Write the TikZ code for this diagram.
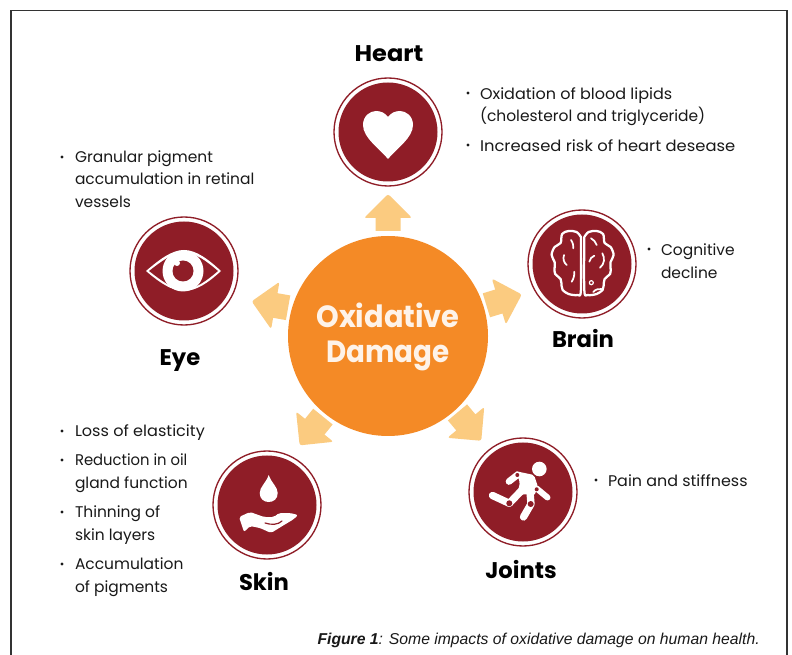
\documentclass[tikz,border=0pt]{standalone}
\usepackage{fontspec}
\setmainfont{Poppins}
\newfontfamily\capfont{Liberation Sans}
\definecolor{dred}{HTML}{8F1D27}
\definecolor{orng}{HTML}{F48A26}
\definecolor{lorng}{HTML}{FBCB80}
\tikzset{
  txt/.style={anchor=base west,inner sep=0pt,outer sep=0pt,font=\fontsize{11.6}{14}\selectfont,text=black!90},
  head/.style={anchor=base,inner sep=0pt,font=\fontsize{17}{19}\selectfont\bfseries,text=black},
  bigt/.style={anchor=base,inner sep=0pt,font=\fontsize{23}{26}\selectfont\bfseries,text=white!90!orng},
  disc/.style={circle,fill=dred,minimum size=99pt*0.75,inner sep=0pt},
  ring/.style={circle,draw=dred,line width=1pt,minimum size=108pt*0.75,inner sep=0pt},
  blockarrow/.style={fill=lorng,draw=none},
  ico/.style={draw=white,line width=1.7pt,line cap=round,line join=round},
  icothin/.style={draw=white,line width=1.3pt,line cap=round,line join=round},
}
% #1 rotation, #2 centre of rotation
\newcommand{\blockarr}[2]{\path[blockarrow,shift={(#2)},rotate=#1]
  (-12.5,-105)--(-12.5,-118)
  [rounded corners=1.8pt]--(-24,-118)--(0,-142)--(24,-118)
  [sharp corners]--(12.5,-118)--(12.5,-105)--cycle;}
\newcommand{\itm}[3]{\node[txt] (#1) at (#2) {#3};}
\newcommand{\itmx}[4]{\node[txt] (#1) at (#2) {\scalebox{#4}[1]{#3}};}
\newcommand{\bul}[2]{\fill[black!90] (#1,#2) circle (1.6);}
\begin{document}
\begin{tikzpicture}[x=0.75pt,y=-0.75pt]
\useasboundingbox (0,0) rectangle (792,655);
\fill[white] (0,0) rectangle (792,655);
\draw[black!80,line width=0.8pt] (11,655)--(11,10.5)--(787,10.5)--(787,655);
% arrows
\blockarr{0}{388,336}
\blockarr{-73}{386,336}
\blockarr{80}{391.5,326}
\blockarr{141}{389,335}
\blockarr{-140}{390,332}
% centre
\node[circle,fill=orng,minimum size=150pt,inner sep=0pt] (core) at (388,336) {};
\node[bigt] (c1) at (388,328) {\scalebox{0.94}[1]{Oxidative}};
\node[bigt] (c2) at (388,363) {\scalebox{0.905}[1]{Damage}};
% discs
\foreach \n/\x/\y in {heart/388/132,brain/582/264,eye/184/271,skin/267/505,joints/523/492}{
  \node[ring] (\n r) at (\x,\y) {};
  \node[disc] (\n) at (\x,\y) {};
}
% heart icon
\begin{scope}[shift={(388,132)}]
\fill[white] (0,27) .. controls (-8,17) and (-25,6) .. (-25,-7) .. controls (-25,-16) and (-18,-21) .. (-12,-21)
 .. controls (-7,-21) and (-3,-19) .. (0,-15) .. controls (3,-19) and (7,-21) .. (12,-21)
 .. controls (18,-21) and (25,-16) .. (25,-7) .. controls (25,6) and (8,17) .. (0,27) -- cycle;
\end{scope}
% brain icon
\begin{scope}[shift={(582.6,264)}]
\foreach \s in {1,-1}{
\begin{scope}[xscale=\s]
\draw[ico] plot[smooth,tension=0.55] coordinates {(1.7,-27)(6,-32)(14,-33)(20.5,-30)(22,-21)(28,-17)(31,-9)(28,-2)(28,4)(27.5,10)(22,15)(21,22)(20,26)(14,30)(5,31)(1.7,26)(1.7,-27)};
\end{scope}}
\draw[icothin] (-11.6,-24) .. controls (-9.5,-21) and (-9,-18) .. (-9.3,-15.7);
\draw[icothin] (-18.6,-9) .. controls (-20,-5) and (-18.5,-1) .. (-15.9,1);
\draw[icothin] (-8.3,7.7) .. controls (-8,11) and (-9,15) .. (-10.9,17.7);
\draw[icothin] (8.4,-25.7) .. controls (11,-24.5) and (13,-22) .. (14.1,-19);
\draw[icothin] (11.7,-8.3) .. controls (9,-7.5) and (7.5,-5) .. (6.7,-2.3);
\draw[icothin] (19.7,-10.7) .. controls (22.5,-6) and (22,0) .. (17.4,3.7);
\draw[icothin,line width=0.9pt] (8.7,18.7) circle (2);
\draw[icothin] (10.7,28) .. controls (13,25) and (16,25) .. (19,25);
\end{scope}
% eye icon
\begin{scope}[shift={(184,271)}]
\fill[white] (-38,0) .. controls (-24,-12) and (-12,-21) .. (0,-21) .. controls (12,-21) and (24,-12) .. (37,0)
  .. controls (24,12) and (12,20) .. (0,20) .. controls (-12,20) and (-24,12) .. (-38,0) -- cycle;
\fill[dred] (-35,0) .. controls (-22,-10) and (-12,-18) .. (0,-18) .. controls (12,-18) and (22,-10) .. (34,0)
  .. controls (22,10) and (12,18) .. (0,18) .. controls (-12,18) and (-22,10) .. (-35,0) -- cycle;
\fill[white] (-1,0) circle (20.5);
\fill[dred] (-1,0) circle (10.5);
\fill[white] (-7,-8) circle (3);
\end{scope}
% skin icon
\begin{scope}[shift={(267,505)}]
\fill[white] (1.7,-30) .. controls (-1,-22) and (-7.3,-18) .. (-7.3,-12) .. controls (-7.3,-6) and (-3,-3) .. (1.7,-3)
  .. controls (6.5,-3) and (10.7,-6) .. (10.7,-12) .. controls (10.7,-18) and (4.5,-22) .. (1.7,-30) -- cycle;
\fill[white,rounded corners=1.5pt] (-28,12)--(-17,7)--(-3,12)--(7,12)--(12,8)--(23,8)--(31,10)--(27,14)--(17,20)--(4,28)--(-7,23)--(-17,21)--(-23,27)--cycle;
\draw[dred,line width=0.9pt,line cap=round] (-2,18) .. controls (4,20) and (11,20) .. (15,16);
\end{scope}
% joints icon
\begin{scope}[shift={(523,492)}]
\fill[white] (16.3,-23) circle (7.3);
\draw[white,line width=5pt,line cap=round,line join=round] (-14,-10.5)--(-5.7,-17);
\draw[white,line width=4.5pt,line cap=round,line join=round] (13.7,-3.5)--(24.5,5.5);
\fill[white,rounded corners=1.5pt] (-8,-21)--(11,-17)--(15,-5)--(11,4)--(2,2)--(-6,4)--(-3,-10)--cycle;
\draw[white,line width=5.5pt,line cap=round,line join=round] (-1,-2)--(-13.7,11.3)--(-30.5,3.5);
\draw[white,line width=5.5pt,line cap=round,line join=round] (7,0)--(8,12)--(0.5,25);
\fill[dred] (-5.7,-17) circle (2);
\fill[dred] (13.7,-2.7) circle (2);
\fill[dred] (-13.7,11.3) circle (3);
\fill[dred] (7.7,12) circle (3);
\end{scope}
% headings
\node[head] (hHeart) at (389,62) {\scalebox{1.06}[1]{Heart}};
\node[head] (hBrain) at (583,348) {Brain};
\node[head] (hEye) at (180,366) {Eye};
\node[head] (hSkin) at (264,590) {Skin};
\node[head] (hJoints) at (521,578) {Joints};
% heart list
\bul{468}{93}\bul{468}{145}
\itmx{a1}{480,99.5}{Oxidation of blood lipids}{1.035}
\itm{a2}{480,121.5}{(cholesterol and triglyceride)}
\itmx{a3}{480,151.5}{Increased risk of heart desease}{1.058}
% brain list
\bul{649}{249}
\itm{b1}{661,255.5}{Cognitive}
\itm{b2}{661,278.5}{decline}
% eye list
\bul{62}{157}
\itm{e1}{75,162.5}{Granular pigment}
\itm{e2}{75,184.5}{accumulation in retinal}
\itm{e3}{75,207.5}{vessels}
% joints list
\bul{596}{480}
\itmx{j1}{608,486.5}{Pain and stiffness}{1.03}
% skin list
\bul{62}{431}\bul{62}{460}\bul{62}{512}\bul{62}{564}
\itmx{s1}{75,436.5}{Loss of elasticity}{1.04}
\itmx{s2}{75,465.5}{Reduction in oil}{0.957}
\itm{s3}{75,488.5}{gland function}
\itm{s4}{75,517.5}{Thinning of}
\itm{s5}{75,540.5}{skin layers}
\itm{s6}{75,569.5}{Accumulation}
\itm{s7}{75,592.5}{of pigments}
% caption
\node[anchor=base east,inner sep=0pt,font=\capfont\fontsize{11.8}{14}\selectfont\itshape,text=black!90] (cap) at (760,644) {\textbf{Figure 1}: Some impacts of oxidative damage on human health.};
\end{tikzpicture}
\end{document}
